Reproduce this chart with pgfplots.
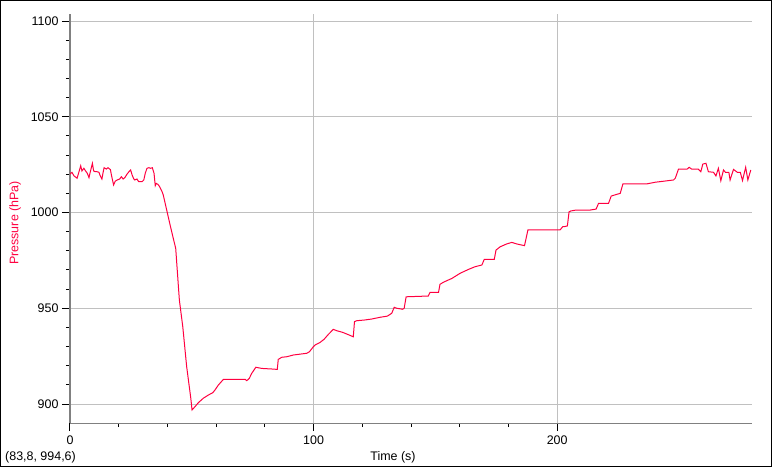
\documentclass[border=0pt]{standalone}
\usepackage{fontspec}
\setmainfont{Liberation Sans}
\usepackage{pgfplots}
\pgfplotsset{compat=1.18}
\definecolor{pline}{RGB}{255,0,64}
\definecolor{gridc}{RGB}{192,192,192}
\definecolor{axc}{RGB}{128,128,128}
\begin{document}
\begin{tikzpicture}
\useasboundingbox (-70bp,-44bp) rectangle (702bp,423bp);
\draw[line width=1bp] (-69.5bp,-43.5bp) rectangle (701.5bp,422.5bp);
\begin{axis}[
  at={(0bp,0bp)}, anchor=south west,
  scale only axis, width=682bp, height=409bp,
  xmin=0, xmax=280, ymin=890.1, ymax=1103.66,
  axis x line*=bottom, axis y line*=left,
  x axis line style={draw=axc, line width=1bp},
  y axis line style={draw=axc, line width=2bp},
  every outer y axis line/.append style={draw=axc, line width=2bp},
  every outer x axis line/.append style={draw=axc, line width=1bp},
  xtick={0,100,200}, ytick={900,950,1000,1050,1100},
  minor x tick num=4, minor y tick num=4,
  tick align=outside,
  major tick length=8bp, minor tick length=4bp,
  every tick/.style={black, line width=1bp},
  grid=major, major grid style={draw=gridc, line width=1bp},
  minor grid style={draw=none},
  tick label style={font=\fontsize{12.5}{14}\selectfont},
  xticklabel style={yshift=-1bp},
  /pgf/number format/assume math mode=true,
  /pgf/number format/1000 sep={},
  label style={font=\fontsize{12.5}{14}\selectfont},
  xlabel={Time (s)}, ylabel={Pressure (hPa)},
  xlabel style={at={(axis description cs:0.4736,-0.0848)}, anchor=center},
  ylabel style={at={(axis description cs:-0.0806,0.489)}, anchor=center, text=pline},
  clip=true,
]
\addplot[pline, line width=1bp, mark=none] table {
0 1020.1
0.8 1021.0
1.6 1019.2
2.9 1017.9
3.7 1021.3
4.4 1024.4
4.9 1021.7
5.7 1023.1
6.4 1021.7
7.1 1020.5
7.8 1018.2
8.2 1020.5
8.7 1023.1
9.2 1025.7
9.7 1021.7
10.4 1021.3
11.1 1021.3
11.9 1021.0
12.4 1019.2
13.1 1017.5
13.6 1021.0
14.0 1023.4
14.9 1022.7
15.6 1023.4
16.6 1022.4
17.0 1019.6
17.9 1014.4
18.6 1016.4
19.4 1017.0
20.4 1017.5
21.1 1018.7
21.8 1017.5
22.5 1018.2
23.4 1020.0
24.2 1021.3
24.9 1022.2
25.5 1019.6
26.2 1017.5
26.6 1017.0
27.5 1017.5
28.2 1016.1
29.6 1016.1
30.3 1017.0
30.9 1020.5
31.6 1023.1
32.4 1023.4
33.1 1023.1
33.8 1023.4
34.5 1020.5
35.0 1014.0
35.4 1015.2
36.1 1014.7
36.8 1013.5
37.8 1010.9
38.3 1009.1
39.7 1001.3
41.1 993.5
42.4 986.5
43.4 981.3
44.9 954.3
46.3 940.4
47.9 919.5
49.6 903.0
50.1 896.9
51.3 898.6
52.7 900.7
54.7 903.0
56.8 904.7
58.6 905.9
59.5 907.3
60.9 909.9
63.0 912.9
71.9 912.9
72.6 912.2
73.6 913.4
74.6 916.0
76.3 919.2
78.7 918.6
82.8 918.3
85.1 918.1
85.5 923.3
86.9 924.4
89.0 924.7
91.7 925.6
97.2 926.5
98.3 927.3
99.7 929.6
100.6 930.8
102.7 932.2
104.3 933.8
106.1 936.4
108.1 939.0
109.5 938.3
112.0 937.4
114.7 936.0
116.3 935.1
116.8 943.0
117.7 943.5
121.1 943.9
123.9 944.4
127.3 945.3
130.3 945.9
132.1 947.4
133.1 950.5
134.2 950.0
136.6 949.5
137.2 950.0
138.0 956.0
147.1 956.4
147.8 958.3
151.3 958.3
151.9 962.5
153.3 963.6
156.8 965.6
160.2 968.3
163.6 970.3
166.3 971.7
169.1 972.6
170.1 975.6
174.2 975.6
174.9 980.4
176.6 982.1
179.3 983.6
181.4 984.4
183.4 983.6
186.6 982.7
187.1 985.6
188.0 990.9
201.2 990.9
202.3 992.6
202.9 992.6
204.2 993.0
204.9 1000.4
205.6 1000.8
207.8 1001.3
213.6 1001.3
216.0 1001.8
217.0 1004.8
221.1 1004.8
222.2 1008.6
224.5 1009.5
225.9 1010.0
227.0 1014.9
236.6 1014.9
240.2 1015.8
243.4 1016.3
247.8 1017.0
248.5 1017.9
249.8 1022.6
253.3 1022.6
254.2 1023.6
255.3 1022.6
258.0 1022.6
259.0 1021.3
259.8 1025.3
261.1 1025.7
262.1 1021.3
264.2 1021.0
265.2 1019.1
266.2 1023.1
267.2 1016.6
268.3 1022.2
269.1 1021.0
270.5 1021.0
271.0 1017.0
272.4 1022.5
274.0 1021.0
275.2 1021.0
276.1 1016.7
277.4 1023.6
278.3 1017.0
279.5 1022.2
};
\end{axis}
\node[anchor=west, font=\fontsize{12.5}{14}\selectfont, inner sep=0pt] at (-65bp,-34.7bp) {(83,8, 994,6)};
\end{tikzpicture}
\end{document}
